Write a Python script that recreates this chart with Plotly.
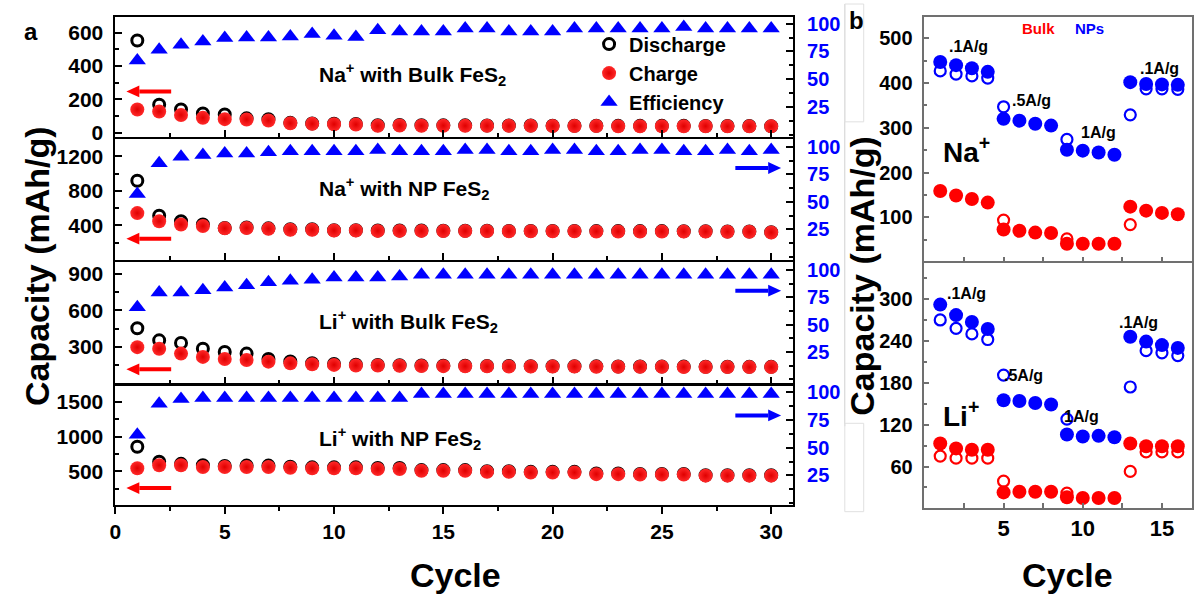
import plotly.graph_objects as go

W, H = 1201, 609
FONT = "Liberation Sans, Arial, sans-serif"
RED = "#ff0000"
BLUE = "#0000ff"

# ---------------- panel a: 30 cycles ----------------
cycles = list(range(1, 31))

na_bulk_discharge = [553, 169, 140, 116, 110, 87, 82, 60, 56, 55, 53, 46, 47, 46, 45,
                     45, 44, 44, 44, 43, 43, 43, 42, 42, 42, 42, 41, 41, 41, 40]
na_bulk_charge = [140, 128, 107, 90, 82, 80, 74, 58, 54, 52, 50, 42, 44, 43, 43,
                  42, 42, 42, 42, 41, 41, 41, 40, 40, 40, 40, 40, 39, 39, 39]
na_bulk_eff = [67, 76.5, 81, 84, 87, 87.5, 87.5, 88.4, 90.7, 89, 88, 94, 93, 92.8, 92.8,
               95.6, 95.6, 92.8, 92.8, 92.8, 95.6, 95.6, 95.6, 95.6, 95.6, 97, 95.6, 95.6, 95.6, 95.6]

na_np_discharge = [918, 513, 449, 411, 370, 375, 366, 355, 355, 344, 344, 340, 340, 340, 338,
                   338, 338, 336, 336, 336, 336, 334, 334, 334, 334, 332, 332, 330, 330, 322]
na_np_charge = [543, 449, 411, 393, 366, 370, 360, 350, 350, 340, 340, 336, 336, 336, 334,
                334, 334, 332, 332, 332, 332, 330, 330, 330, 330, 328, 328, 326, 326, 318]
na_np_eff = [57, 85, 91, 92.6, 94, 94, 95, 96, 96, 96, 96, 97, 96, 96, 96,
             97, 97, 96, 96, 97, 97, 96, 96, 97, 97, 96, 96, 97, 96, 97]

li_bulk_discharge = [452, 353, 332, 284, 257, 244, 199, 180, 165, 158, 152, 150, 148, 146, 145,
                     144, 143, 142, 141, 140, 140, 139, 138, 138, 137, 137, 136, 136, 135, 135]
li_bulk_charge = [297, 284, 244, 217, 199, 191, 178, 164, 156, 151, 146, 146, 144, 142, 141,
                  140, 139, 138, 138, 137, 137, 136, 136, 135, 135, 134, 134, 133, 133, 133]
li_bulk_eff = [66, 79.4, 79.4, 81.5, 84, 86, 88.8, 90.3, 91.2, 93.2, 93.2, 93.2, 94.1, 95.6, 95.6,
               95.6, 95.6, 95.6, 95.6, 95.6, 95.6, 95.6, 95.6, 95.6, 95.6, 95.6, 95.6, 95.6, 95.6, 95.6]

li_np_discharge = [856, 641, 610, 590, 580, 585, 585, 570, 560, 560, 560, 550, 550, 520, 520,
                   520, 505, 505, 495, 495, 495, 470, 470, 465, 465, 465, 445, 445, 445, 445]
li_np_charge = [547, 590, 590, 565, 565, 565, 565, 555, 545, 545, 545, 535, 535, 510, 510,
                510, 495, 495, 485, 485, 485, 462, 462, 455, 455, 455, 440, 440, 440, 440]
li_np_eff = [61.8, 89.7, 94, 95, 95, 95, 95, 95, 95, 95, 95, 95, 95, 98.5, 98.5,
             98.5, 98.5, 98.5, 98.5, 98.5, 98.5, 98.5, 98.5, 98.5, 98.5, 98.5, 98.5, 98.5, 98.5, 98.5]

panel_a_titles = ["Na<sup>+</sup> with Bulk FeS<sub>2</sub>",
                  "Na<sup>+</sup> with NP FeS<sub>2</sub>",
                  "Li<sup>+</sup> with Bulk FeS<sub>2</sub>",
                  "Li<sup>+</sup> with NP FeS<sub>2</sub>"]

# ---------------- panel b: rate capability, 16 cycles ----------------
rate_cycles = list(range(1, 17))

na_np_rate_filled = [447, 440, 433, 425, 320, 316, 309, 305, 251, 249, 245, 240, 402, 398, 397, 396]
na_np_rate_open = [427, 420, 416, 411, 347, None, None, None, 274, None, None, None, 329, 387, 387, 386]
na_bulk_rate_filled = [159, 149, 141, 133, 73, 70, 66, 65, 41, 41, 41, 41, 124, 115, 110, 107]
na_bulk_rate_open = [None, None, None, None, 94, None, None, None, 52, None, None, None, 84, None, None, None]

li_np_rate_filled = [292, 277, 267, 257, 155, 154, 151, 149, 106, 103, 104, 102, 246, 239, 234, 230]
li_np_rate_open = [270, 258, 250, 242, 191, None, None, None, 128, None, None, None, 174, 226, 223, 219]
li_bulk_rate_filled = [93, 86, 84, 84, 23, 24, 24, 24, 16, 15, 15, 15, 93, 89, 89, 89]
li_bulk_rate_open = [75, 72, 72, 72, 39, None, None, None, 22, None, None, None, 53, 81, 81, 81]


def fx(p):
    return p / W


def fy(p):
    return 1 - p / H


fig = go.Figure()

# ---- panel a traces ----
a_sets = [
    (na_bulk_discharge, na_bulk_charge, na_bulk_eff),
    (na_np_discharge, na_np_charge, na_np_eff),
    (li_bulk_discharge, li_bulk_charge, li_bulk_eff),
    (li_np_discharge, li_np_charge, li_np_eff),
]
for i, (dis, chg, eff) in enumerate(a_sets):
    xa = "x" if i == 0 else f"x{i + 1}"
    ya = "y" if i == 0 else f"y{i + 1}"
    ye = f"y{i + 5}"
    show = i == 0
    fig.add_trace(go.Scatter(
        x=cycles, y=dis, xaxis=xa, yaxis=ya, mode="markers", name="Discharge",
        legendgroup="d", showlegend=show,
        marker=dict(symbol="circle-open", size=11, color="black", line=dict(width=3, color="black"))))
    fig.add_trace(go.Scatter(
        x=cycles, y=chg, xaxis=xa, yaxis=ya, mode="markers", name="Charge",
        legendgroup="c", showlegend=show,
        marker=dict(symbol="circle", size=14, color="#ff2a2a",
                    gradient=dict(type="radial", color="#e00000"), line=dict(width=0))))
    fig.add_trace(go.Scatter(
        x=cycles, y=eff, xaxis=xa, yaxis=ye, mode="markers", name="Efficiency",
        legendgroup="e", showlegend=show,
        marker=dict(symbol="triangle-up", size=15, color=BLUE, line=dict(width=0))))

# ---- panel b traces ----
b_sets = [
    ("x5", "y9", na_np_rate_open, na_np_rate_filled, BLUE),
    ("x5", "y9", na_bulk_rate_open, na_bulk_rate_filled, RED),
    ("x6", "y10", li_np_rate_open, li_np_rate_filled, BLUE),
    ("x6", "y10", li_bulk_rate_open, li_bulk_rate_filled, RED),
]
for xa, ya, opn, fil, col in b_sets:
    fig.add_trace(go.Scatter(
        x=rate_cycles, y=opn, xaxis=xa, yaxis=ya, mode="markers", showlegend=False,
        marker=dict(symbol="circle-open", size=11, color=col, line=dict(width=2.2, color=col))))
    fig.add_trace(go.Scatter(
        x=rate_cycles, y=fil, xaxis=xa, yaxis=ya, mode="markers", showlegend=False,
        marker=dict(symbol="circle", size=14, color=col, line=dict(width=0))))

# ---- axes ----
tick_font = dict(family=FONT, size=21, color="black", weight="bold")
blue_font = dict(family=FONT, size=20, color=BLUE, weight="bold")

a_dom_x = [fx(110), fx(791)]
# stacked rows share their 2 px frame line (lines are drawn just outside each domain)
a_rows = [(13, 135.5), (137.5, 261), (263, 386.5), (388.5, 510)]
left_cfg = [
    dict(range=[-25, 695], tickvals=[0, 200, 400, 600], minor=100),
    dict(range=[-5, 1403], tickvals=[400, 800, 1200], minor=200),
    dict(range=[-2, 995], tickvals=[300, 600, 900], minor=150),
    dict(range=[20, 1740], tickvals=[500, 1000, 1500], minor=250),
]
right_rng = [[-1.6, 106.1], [-3.2, 107.1], [-3.7, 107.1], [-1.5, 106.2]]

layout = dict(
    width=W, height=H, margin=dict(l=0, r=0, t=0, b=0),
    paper_bgcolor="white", plot_bgcolor="rgba(0,0,0,0)",
    font=dict(family=FONT, color="black"),
    showlegend=True,
    legend=dict(x=fx(586), y=fy(21), xanchor="left", yanchor="top",
                bgcolor="rgba(0,0,0,0)", borderwidth=0, tracegroupgap=0,
                traceorder="grouped",
                font=dict(family=FONT, size=20, color="black", weight="bold")),
)

for i, (top, bot) in enumerate(a_rows):
    n = "" if i == 0 else str(i + 1)
    last = i == 3
    layout[f"xaxis{n}"] = dict(
        domain=a_dom_x, anchor=f"y{n}", range=[0, 31],
        tickvals=[0, 5, 10, 15, 20, 25, 30], showticklabels=last,
        ticks="outside" if last else "inside", ticklen=7, tickwidth=2, tickcolor="black",
        minor=dict(dtick=2.5, tick0=0, ticks="outside" if last else "inside", ticklen=4,
                   tickwidth=2, tickcolor="black"),
        tickfont=tick_font, showgrid=False, zeroline=False,
        showline=True, linewidth=2, linecolor="black", mirror=True)
    cfg = left_cfg[i]
    layout[f"yaxis{n}"] = dict(
        domain=[fy(bot), fy(top)], anchor=f"x{n}", range=cfg["range"],
        tickvals=cfg["tickvals"], ticks="inside", ticklen=7, tickwidth=2, tickcolor="black",
        minor=dict(dtick=cfg["minor"], tick0=0, ticks="inside", ticklen=4, tickwidth=2,
                   tickcolor="black"),
        tickfont=tick_font, ticklabelstandoff=6, showgrid=False, zeroline=False,
        showline=True, linewidth=2, linecolor="black")
    layout[f"yaxis{i + 5}"] = dict(
        domain=[fy(bot), fy(top)], anchor=f"x{n}", overlaying=f"y{n}", side="right",
        range=right_rng[i], tickvals=[25, 50, 75, 100], ticks="inside", ticklen=7,
        tickwidth=2, tickcolor="black",
        minor=dict(dtick=12.5, tick0=0, ticks="inside", ticklen=4, tickwidth=2, tickcolor="black"),
        tickfont=blue_font, ticklabelstandoff=8, showgrid=False, zeroline=False,
        showline=True, linewidth=2, linecolor="black")

b_dom_x = [fx(923), fx(1192)]
GRAY = "#707070"
for n, ya, top, bot, rng, tv, mn, last in [
    ("5", "9", 13, 262, [2, 548], [100, 200, 300, 400, 500], 50, False),
    ("6", "10", 263.5, 513, [1, 352], [60, 120, 180, 240, 300], 30, True),
]:
    layout[f"xaxis{n}"] = dict(
        domain=b_dom_x, anchor=f"y{ya}", range=[0, 16.9],
        tickvals=[5, 10, 15], showticklabels=last,
        ticks="inside", ticklen=5, tickwidth=1.5, tickcolor=GRAY,
        minor=dict(dtick=2.5, tick0=0, ticks="inside", ticklen=5, tickwidth=1.5, tickcolor=GRAY),
        tickfont=dict(family=FONT, size=22, color="black", weight="bold"),
        showgrid=False, zeroline=False,
        showline=True, linewidth=1.5, linecolor=GRAY, mirror=True)
    layout[f"yaxis{ya}"] = dict(
        domain=[fy(bot), fy(top)], anchor=f"x{n}", range=rng, tickvals=tv,
        ticks="inside", ticklen=5, tickwidth=1.5, tickcolor=GRAY,
        minor=dict(dtick=mn, tick0=0, ticks="inside", ticklen=3, tickwidth=1.5, tickcolor=GRAY),
        tickfont=dict(family=FONT, size=20, color="black", weight="bold"),
        ticklabelstandoff=6, showgrid=False, zeroline=False,
        showline=True, linewidth=1.5, linecolor=GRAY, mirror=True)

fig.update_layout(**layout)

# ---- text annotations ----
ann = []


def text(px, py, s, size, color="black", xanchor="center", angle=0):
    ann.append(dict(x=fx(px), y=fy(py), xref="paper", yref="paper", text=s, showarrow=False,
                    xanchor=xanchor, yanchor="middle", textangle=angle,
                    font=dict(family=FONT, size=size, color=color, weight="bold")))


text(25, 28, "a", 24)
text(855, 17, "b", 24)
text(31, 267, "Capacity (mAh/g)", 34, angle=-90)
text(860, 277, "Capacity (mAh/g)", 34, angle=-90)
text(452, 582, "Cycle", 34)
text(1067, 582, "Cycle", 34)

for s, py in zip(panel_a_titles, [72, 188, 323, 443]):
    text(313, py, s, 21, xanchor="left")

text(1038, 25, "Bulk", 15, color=RED)
text(1089, 25, "NPs", 15, color=BLUE)
for s, px, py in [(".1A/g", 967, 43), (".5A/g", 1031, 98), ("1A/g", 1098, 131), (".1A/g", 1159, 66),
                  (".1A/g", 965, 295), (".5A/g", 1023, 378), ("1A/g", 1081, 420), (".1A/g", 1138, 324)]:
    text(px, py, s, 16)
text(965, 149, "Na<sup>+</sup>", 28)
text(960, 418, "Li<sup>+</sup>", 28)

fig.update_layout(annotations=ann)

# ---- axis-pointer arrows and thin frame lines, as shapes ----
shapes = []


def arrow(head_x, py, tail_x, color):
    d = 1 if tail_x > head_x else -1
    base = head_x + d * 13
    shapes.append(dict(type="line", xref="paper", yref="paper",
                       x0=fx(base), x1=fx(tail_x), y0=fy(py), y1=fy(py),
                       line=dict(color=color, width=4)))
    path = (f"M {fx(head_x)} {fy(py)} L {fx(base)} {fy(py - 6)} "
            f"L {fx(base)} {fy(py + 6)} Z")
    shapes.append(dict(type="path", xref="paper", yref="paper", path=path,
                       fillcolor=color, line=dict(color=color, width=0)))


for py in [89, 239, 372, 493]:
    arrow(121, py, 166, RED)
for py in [167, 292, 419]:
    arrow(779, py, 733, BLUE)

shapes += [
    dict(type="line", xref="paper", yref="paper", x0=fx(843), x1=fx(843), y0=fy(0), y1=fy(430),
         line=dict(color="#d0d0d0", width=1)),
    dict(type="rect", xref="paper", yref="paper", x0=fx(843), x1=fx(862), y0=fy(120), y1=fy(0),
         line=dict(color="#e0e0e0", width=1)),
    dict(type="rect", xref="paper", yref="paper", x0=fx(843), x1=fx(862), y0=fy(517), y1=fy(427),
         line=dict(color="#e0e0e0", width=1)),
]
fig.update_layout(shapes=shapes)

fig.write_html("out.html")
